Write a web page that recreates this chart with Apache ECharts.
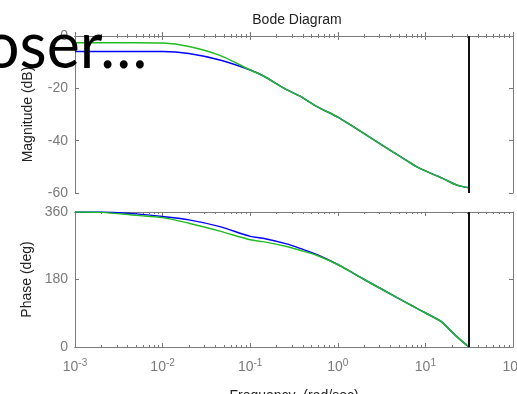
<!DOCTYPE html>
<html>
<head>
<meta charset="utf-8">
<script src="https://cdn.jsdelivr.net/npm/echarts@6/dist/echarts.min.js"></script>
<style>
  html, body { margin: 0; padding: 0; background: #fff; }
  #chart { width: 517px; height: 394px; }
</style>
</head>
<body>
<div id="chart"></div>
<script>
// frequency points (rad/sec)
var freqs = [0.001, 0.002, 0.005, 0.01, 0.02, 0.045, 0.1, 0.14, 0.26, 0.37, 0.58, 1, 1.4, 2.15, 3.3, 6.2, 8, 14.7, 16, 23, 31.4];
// magnitude (dB)
var magBlue  = [-5.9, -5.9, -5.9, -5.9, -6.7, -9.2, -13, -15.2, -20.5, -23, -27, -31, -34, -38, -42, -47.7, -50, -54, -54.5, -57, -58];
var magGreen = [-2.6, -2.6, -2.6, -2.7, -4.0, -7.4, -13, -15.2, -20.5, -23, -27, -31, -34, -38, -42, -47.7, -50, -54, -54.5, -57, -58];
// phase (deg)
var phBlue  = [360, 360, 355, 348, 339, 321, 295, 290, 275, 263, 246, 220, 201, 176, 152, 117, 103, 70, 63, 27, 0];
var phGreen = [360, 359, 351, 345, 330, 309, 286, 281, 268, 258, 244, 220, 201, 176, 152, 117, 103, 70, 63, 27, 0];
var nyquist = 31.4;

var decadeTicks = [0.001, 0.01, 0.1, 1, 10, 100];
var minorTicks = [];
decadeTicks.slice(0, 5).forEach(function (d) {
  for (var k = 2; k <= 9; k++) minorTicks.push(+(d * k).toPrecision(3));
});

var gray = '#7a7a7a';
var fontFam = '"Liberation Sans", Arial, sans-serif';

function pairs(xs, ys) {
  return xs.map(function (x, i) { return [x, ys[i]]; });
}

function xAx(grid, pos, ticks, len, labels) {
  var a = {
    type: 'log', logBase: 10, gridIndex: grid, position: pos,
    min: 0.001, max: 100,
    axisLine: { show: true, lineStyle: { color: gray, width: 1 } },
    axisTick: { show: true, inside: true, length: len, customValues: ticks, lineStyle: { color: gray } },
    axisLabel: { show: false },
    splitLine: { show: false }
  };
  if (labels) {
    a.axisLabel = {
      show: true, customValues: decadeTicks, margin: 11,
      formatter: function (v) {
        return '{b|10}{s|' + Math.round(Math.log10(v)) + '}';
      },
      rich: {
        b: { fontSize: 14, color: gray, fontFamily: fontFam, lineHeight: 16, verticalAlign: 'bottom' },
        s: { fontSize: 10, color: gray, fontFamily: fontFam, lineHeight: 10, verticalAlign: 'top' }
      }
    };
  }
  return a;
}

function yAx(grid, pos, min, max, step, name) {
  var a = {
    type: 'value', gridIndex: grid, position: pos,
    min: min, max: max, interval: step,
    axisLine: { show: true, lineStyle: { color: gray, width: 1 } },
    axisTick: { show: true, inside: true, length: 4, lineStyle: { color: gray } },
    axisLabel: { show: false },
    splitLine: { show: false }
  };
  if (name) {
    a.axisLabel = { show: true, color: gray, fontSize: 14, fontFamily: fontFam, margin: 7 };
    a.name = name;
    a.nameLocation = 'middle';
    a.nameRotate = 90;
    a.nameGap = 40;
    a.nameTextStyle = { color: '#222', fontSize: 14, fontFamily: fontFam };
  }
  return a;
}

function line(name, color, xi, yi, data, mark) {
  var s = {
    name: name, type: 'line', xAxisIndex: xi, yAxisIndex: yi,
    data: data, symbol: 'none', smooth: 0.3,
    lineStyle: { color: color, width: 1.5 }
  };
  if (mark) {
    s.markLine = {
      silent: true, symbol: 'none', label: { show: false },
      lineStyle: { color: '#111', width: 2, type: 'solid' },
      data: [{ xAxis: nyquist }]
    };
  }
  return s;
}

var chart = echarts.init(document.getElementById('chart'));
chart.setOption({
  animation: false,
  backgroundColor: '#fff',
  title: {
    text: 'Bode Diagram', left: 292, top: 8, textAlign: 'center',
    textStyle: { color: '#222', fontSize: 14, fontWeight: 'normal', fontFamily: fontFam }
  },
  grid: [
    { left: 75, right: 4, top: 36, height: 157, outerBoundsMode: 'none' },
    { left: 75, right: 4, top: 212, height: 135, outerBoundsMode: 'none' }
  ],
  xAxis: [
    xAx(0, 'bottom', decadeTicks, 4, false),
    xAx(0, 'bottom', minorTicks, 2, false),
    xAx(0, 'top', decadeTicks, 4, false),
    xAx(0, 'top', minorTicks, 2, false),
    xAx(1, 'bottom', decadeTicks, 4, true),
    xAx(1, 'bottom', minorTicks, 2, false),
    xAx(1, 'top', decadeTicks, 4, false),
    xAx(1, 'top', minorTicks, 2, false)
  ],
  yAxis: [
    yAx(0, 'left', -60, 0, 20, 'Magnitude (dB)'),
    yAx(0, 'right', -60, 0, 20, null),
    yAx(1, 'left', 0, 360, 180, 'Phase (deg)'),
    yAx(1, 'right', 0, 360, 180, null)
  ],
  series: [
    line('mag blue', '#0000ff', 0, 0, pairs(freqs, magBlue), false),
    line('mag green', '#22bb22', 0, 0, pairs(freqs, magGreen), true),
    line('phase blue', '#0000ff', 4, 2, pairs(freqs, phBlue), false),
    line('phase green', '#22bb22', 4, 2, pairs(freqs, phGreen), true)
  ],
  graphic: [{
    type: 'text', z: 100, x: -16, y: 14, scaleX: 0.95,
    style: { text: 'oser…', fill: '#000', font: '66px Lato, "Open Sans", sans-serif' }
  }, {
    type: 'text', z: 10, x: 294, y: 389,
    style: {
      text: 'Frequency  (rad/sec)', fill: '#222', align: 'center', verticalAlign: 'top',
      font: '14px "Liberation Sans", Arial, sans-serif'
    }
  }]
});
</script>
</body>
</html>
